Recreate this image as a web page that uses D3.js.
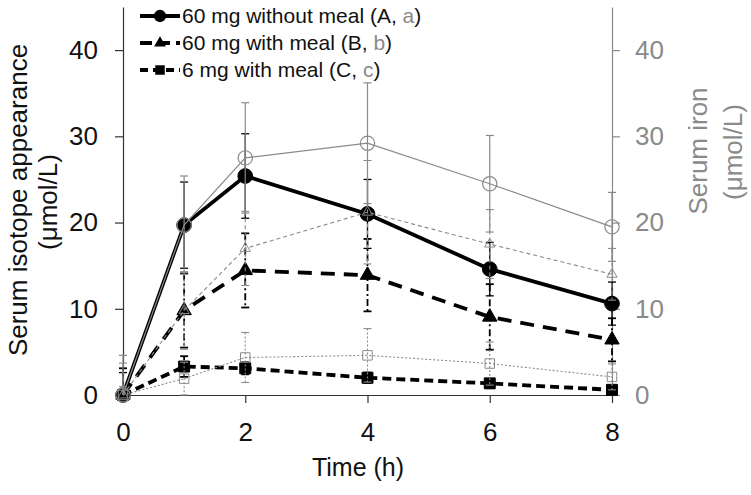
<!DOCTYPE html>
<html><head><meta charset="utf-8">
<script src="https://cdn.jsdelivr.net/npm/d3@7"></script>
<style>
body{margin:0;background:#fff;}
svg text{font-family:"Liberation Sans",Arial,sans-serif;}
</style></head>
<body><svg id="c" width="751" height="495"></svg>
<script>
const time = [0, 1, 2, 4, 6, 8];
const isoA = [0, 19.7, 25.4, 21.0, 14.6, 10.6];
const isoAErr = [2.6, 5.0, 4.9, 4.0, 3.1, 2.5];
const isoB = [0, 9.8, 14.45, 13.9, 9.05, 6.4];
const isoBErr = [3.1, 4.3, 4.3, 4.2, 3.8, 2.5];
const isoC = [0, 3.3, 3.1, 2.0, 1.35, 0.6];
const isoCErr = [0.5, 1.2, 0.7, 0.6, 0.5, 0.4];
const ironA = [0, 19.7, 27.5, 29.2, 24.5, 19.5];
const ironAErr = [4.6, 5.7, 6.4, 7.0, 5.6, 4.0];
const ironB = [0, 9.8, 17.0, 21.2, 17.5, 14.0];
const ironBErr = [3.7, 4.5, 4.3, 6.0, 4.0, 3.0];
const ironC = [0, 1.9, 4.35, 4.6, 3.65, 2.1];
const ironCErr = [1.0, 1.9, 2.9, 3.1, 2.5, 1.5];
const xTicks = [0, 2, 4, 6, 8];
const yTicks = [0, 10, 20, 30, 40];
const legendLabels = [["60 mg without meal ", "(A, ", "a", ")"], ["60 mg with meal ", "(B, ", "b", ")"], ["6 mg with meal ", "(C, ", "c", ")"]];

const svg = d3.select("#c");
const GREY = "#8a8a8a";
const x = d3.scaleLinear().domain([0, 8]).range([123, 612]);
const y = d3.scaleLinear().domain([0, 45]).range([395, 7]);

// axes
const xAxis = svg.append("g").attr("transform", "translate(0,395)")
  .call(d3.axisBottom(x).tickValues(xTicks).tickSize(8).tickSizeOuter(0).tickPadding(20));
xAxis.select(".domain").attr("stroke", "#333").attr("stroke-width", 1.2);
xAxis.selectAll(".tick line").attr("stroke", "#333").attr("stroke-width", 1.2);
xAxis.selectAll(".tick text").attr("font-size", 26).attr("fill", "#111");

const yAxisL = svg.append("g").attr("transform", "translate(123,0)")
  .call(d3.axisLeft(y).tickValues(yTicks).tickSize(8).tickSizeOuter(0).tickPadding(17));
yAxisL.select(".domain").attr("stroke", "#333").attr("stroke-width", 1.2);
yAxisL.selectAll(".tick line").attr("stroke", "#333").attr("stroke-width", 1.2);
yAxisL.selectAll(".tick text").attr("font-size", 26).attr("fill", "#111");

const yAxisR = svg.append("g").attr("transform", "translate(612,0)")
  .call(d3.axisRight(y).tickValues(yTicks).tickSize(8).tickSizeOuter(0).tickPadding(15));
yAxisR.select(".domain").attr("stroke", GREY).attr("stroke-width", 1.2);
yAxisR.selectAll(".tick line").attr("stroke", GREY).attr("stroke-width", 1.2);
yAxisR.selectAll(".tick text").attr("font-size", 26).attr("fill", GREY);

// titles
svg.append("text").attr("transform", "translate(27,200) rotate(-90)").attr("text-anchor", "middle")
  .attr("font-size", 26).attr("fill", "#111").text("Serum isotope appearance");
svg.append("text").attr("transform", "translate(57,202) rotate(-90)").attr("text-anchor", "middle")
  .attr("font-size", 26).attr("fill", "#111").text("(μmol/L)");
svg.append("text").attr("transform", "translate(707,151) rotate(-90)").attr("text-anchor", "middle")
  .attr("font-size", 26).attr("fill", GREY).text("Serum iron");
svg.append("text").attr("transform", "translate(742,152) rotate(-90)").attr("text-anchor", "middle")
  .attr("font-size", 26).attr("fill", GREY).text("(μmol/L)");
svg.append("text").attr("x", 358).attr("y", 476).attr("text-anchor", "middle")
  .attr("font-size", 25).attr("fill", "#111").text("Time (h)");

function series(vals, errs, opt) {
  const pts = time.map((t, i) => ({t, v: vals[i], e: errs[i]}));
  const g = svg.append("g");
  pts.forEach(p => {
    const cx = x(p.t);
    g.append("line").attr("x1", cx).attr("x2", cx)
      .attr("y1", y(p.v + p.e)).attr("y2", y(Math.max(0, p.v - p.e)))
      .attr("stroke", opt.color).attr("stroke-width", opt.ew)
      .attr("stroke-dasharray", opt.edash || null);
    [p.v + p.e, p.v - p.e].forEach(val => {
      if (val < 0) return;
      g.append("line").attr("x1", cx - 4).attr("x2", cx + 4)
        .attr("y1", y(val)).attr("y2", y(val))
        .attr("stroke", opt.color).attr("stroke-width", opt.ew);
    });
  });
  const line = d3.line().x(p => x(p.t)).y(p => y(p.v));
  g.append("path").datum(pts).attr("d", line).attr("fill", "none")
    .attr("stroke", opt.color).attr("stroke-width", opt.lw)
    .attr("stroke-dasharray", opt.dash || null);
  const sym = d3.symbol().type(opt.sym).size(opt.size);
  g.selectAll(".m").data(pts).enter().append("path")
    .attr("transform", p => `translate(${x(p.t)},${y(p.v)})`)
    .attr("d", sym)
    .attr("fill", opt.fill).attr("stroke", opt.color).attr("stroke-width", opt.mw || 1);
}

series(isoA, isoAErr, {color: "#000", lw: 3.8, ew: 1.3, sym: d3.symbolCircle, size: 170, fill: "#000"});
series(isoB, isoBErr, {color: "#000", lw: 3.8, ew: 1.8, dash: "14,9", edash: "7,3,2,3", sym: d3.symbolTriangle, size: 90, fill: "#000"});
series(isoC, isoCErr, {color: "#000", lw: 3.8, ew: 1.8, dash: "9,5", edash: "4,2", sym: d3.symbolSquare, size: 120, fill: "#000"});
series(ironA, ironAErr, {color: GREY, lw: 1.2, ew: 1.2, sym: d3.symbolCircle, size: 160, fill: "none", mw: 1.2});
series(ironB, ironBErr, {color: GREY, lw: 1.1, ew: 1.1, dash: "4,3", edash: "4,3", sym: d3.symbolTriangle, size: 45, fill: "none", mw: 1});
series(ironC, ironCErr, {color: GREY, lw: 1.1, ew: 1.1, dash: "2,2", edash: "2,2", sym: d3.symbolSquare, size: 90, fill: "none", mw: 1});

// legend
const legY = [16, 43, 70];
const legStyle = [
  {dash: null, sym: d3.symbolCircle, size: 120},
  {dash: "12,6", sym: d3.symbolTriangle, size: 60},
  {dash: "8,5", sym: d3.symbolSquare, size: 90}
];
legendLabels.forEach((lab, i) => {
  const g = svg.append("g");
  g.append("line").attr("x1", 140).attr("x2", 180).attr("y1", legY[i]).attr("y2", legY[i])
    .attr("stroke", "#000").attr("stroke-width", 3.8).attr("stroke-dasharray", legStyle[i].dash);
  g.append("path").attr("transform", `translate(160,${legY[i]})`)
    .attr("d", d3.symbol().type(legStyle[i].sym).size(legStyle[i].size)()).attr("fill", "#000");
  const t = g.append("text").attr("x", 182).attr("y", legY[i] + 7).attr("font-size", 21).attr("fill", "#111");
  t.append("tspan").text(lab[0]);
  t.append("tspan").text(lab[1]);
  t.append("tspan").attr("fill", GREY).text(lab[2]);
  t.append("tspan").text(lab[3]);
});
</script></body></html>
